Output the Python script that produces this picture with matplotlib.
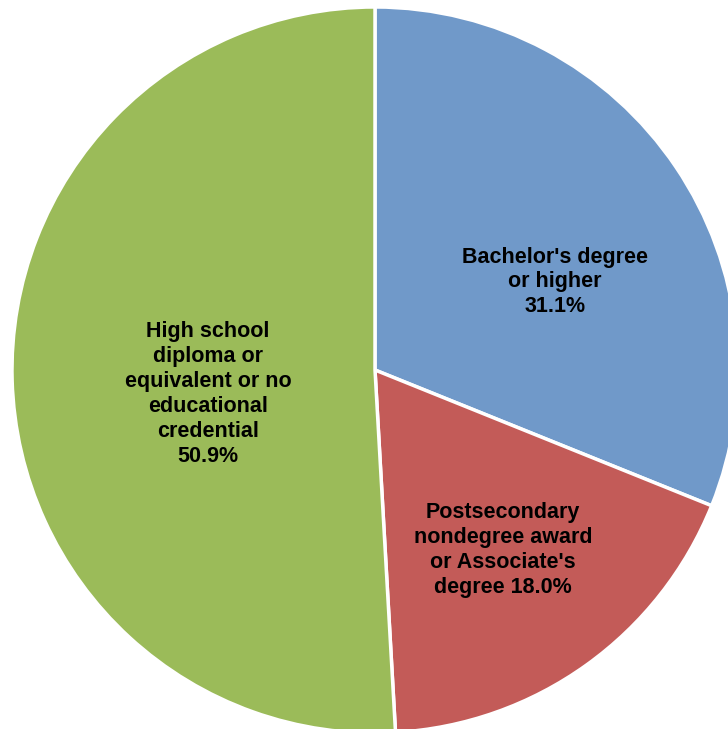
import matplotlib
matplotlib.use("Agg")
import matplotlib.pyplot as plt
import numpy as np

categories = ["Bachelor's degree\nor higher",
              "Postsecondary\nnondegree award\nor Associate's\ndegree",
              "High school\ndiploma or\nequivalent or no\neducational\ncredential"]
values = [31.1, 18.0, 50.9]
colors = ["#7099C9", "#C35B58", "#9BBB59"]
label_text = ["Bachelor's degree\nor higher\n31.1%",
              "Postsecondary\nnondegree award\nor Associate's\ndegree 18.0%",
              "High school\ndiploma or\nequivalent or no\neducational\ncredential\n50.9%"]

W, H = 728, 729
fig = plt.figure(figsize=(W / 100, H / 100), dpi=100)
cx, cy, R = 375, 729 - 370, 363
ax = fig.add_axes([(cx - R) / W, (cy - R) / H, 2 * R / W, 2 * R / H])
wedges, _ = ax.pie(values, colors=colors, startangle=90, counterclock=False,
                   radius=1.0, wedgeprops=dict(edgecolor="white", linewidth=2.5))
for w in wedges:
    w.set_clip_on(False)
ax.set_xlim(-1, 1)
ax.set_ylim(-1, 1)
ax.set_aspect("equal")
ax.axis("off")

# label centres in pixel offsets from pie centre (dx, dy up)
pos = [(180, 88), (128, -180), (-167, -24)]
for (dx, dy), t in zip(pos, label_text):
    ax.text(dx / R, dy / R, t, ha="center", va="center",
            fontsize=15.5, fontweight="bold", family="Liberation Sans",
            linespacing=1.25, color="black")

fig.savefig("out.png", dpi=100)
